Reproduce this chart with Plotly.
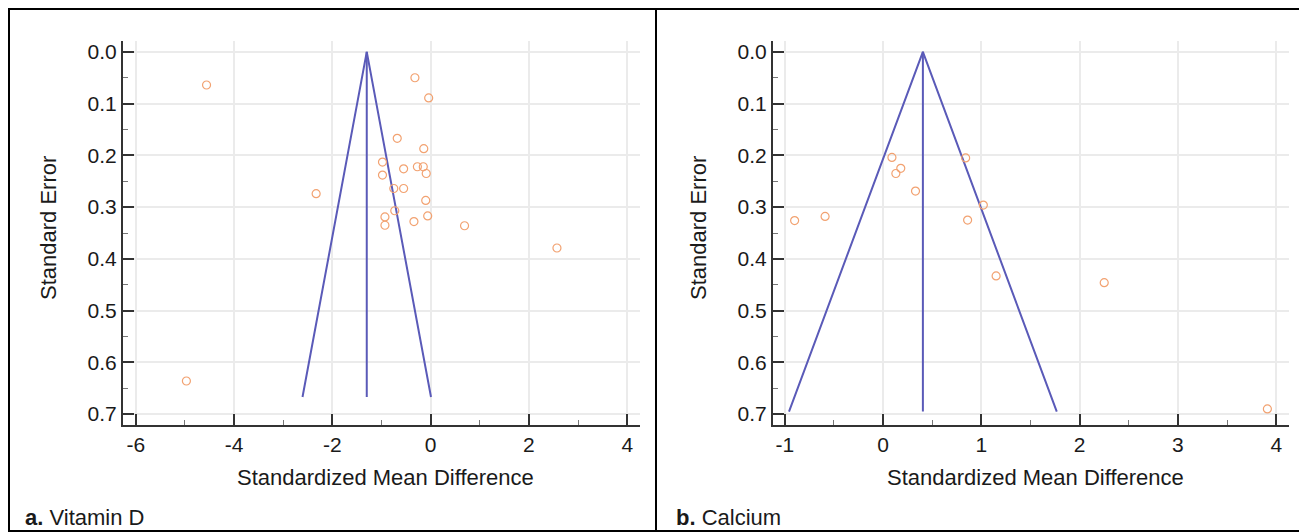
import plotly.graph_objects as go

# a. Vitamin D  (effect size, standard error)
vitd_smd = [-4.56, -0.32, -0.04, -0.68, -0.14, -0.98, -0.55, -0.27, -0.15, -0.09, -0.98,
            -0.75, -0.55, -2.33, -0.10, -0.73, -0.93, -0.93, -0.34, -0.06, 0.69, 2.57, -4.97]
vitd_se = [0.064, 0.050, 0.089, 0.167, 0.187, 0.213, 0.226, 0.222, 0.222, 0.235, 0.238,
           0.264, 0.264, 0.274, 0.287, 0.307, 0.319, 0.335, 0.328, 0.317, 0.336, 0.379, 0.636]
vitd_pooled = -1.30
vitd_se_max = 0.667

# b. Calcium
ca_smd = [-0.90, -0.59, 0.09, 0.13, 0.18, 0.33, 0.84, 1.02, 0.86, 1.15, 2.25, 3.91]
ca_se = [0.326, 0.318, 0.204, 0.235, 0.225, 0.269, 0.205, 0.296, 0.325, 0.433, 0.446, 0.690]
ca_pooled = 0.405
ca_se_max = 0.695

yticks = [0.0, 0.1, 0.2, 0.3, 0.4, 0.5, 0.6, 0.7]
xticks_a = [-6, -4, -2, 0, 2, 4]
xticks_b = [-1, 0, 1, 2, 3, 4]

# page body has an 8px margin, so the figure starts at (8, 8)
OX, OY = 8, 8
W, H = 1299, 524


def px(x):
    return (x - OX) / W


def py(y):
    return 1 - (y - OY) / H


line_col = "#5a5ab8"
pt_col = "#f2a271"
grid_col = "#ebebeb"
axis_col = "#333333"
font = "Arial, Liberation Sans, sans-serif"

fig = go.Figure()


def funnel(pooled, se_max, xa, ya):
    half = 1.96 * se_max
    fig.add_trace(go.Scatter(x=[pooled - half, pooled, pooled + half], y=[se_max, 0, se_max],
                             mode="lines", line=dict(color=line_col, width=2),
                             xaxis=xa, yaxis=ya, showlegend=False, hoverinfo="skip"))
    fig.add_trace(go.Scatter(x=[pooled, pooled], y=[0, se_max], mode="lines",
                             line=dict(color=line_col, width=2),
                             xaxis=xa, yaxis=ya, showlegend=False, hoverinfo="skip"))


def points(xs, ys, xa, ya):
    fig.add_trace(go.Scatter(x=xs, y=ys, mode="markers",
                             marker=dict(symbol="circle-open", size=8, color=pt_col,
                                         line=dict(width=1.2, color=pt_col)),
                             xaxis=xa, yaxis=ya, showlegend=False))


funnel(vitd_pooled, vitd_se_max, "x", "y")
points(vitd_smd, vitd_se, "x", "y")
funnel(ca_pooled, ca_se_max, "x2", "y2")
points(ca_smd, ca_se, "x2", "y2")


def xax(left, right, rng, ticks, minor_dt, anchor):
    return dict(domain=[px(left), px(right)], range=rng, anchor=anchor,
                tickvals=ticks, ticktext=[str(t) for t in ticks],
                showgrid=True, gridcolor=grid_col, gridwidth=1.5, zeroline=False,
                showline=True, linecolor=axis_col, linewidth=2,
                ticks="inside", ticklen=11, tickwidth=2, tickcolor=axis_col,
                minor=dict(dtick=minor_dt, ticks="inside", ticklen=5, tickwidth=1,
                           tickcolor="#777777", showgrid=False),
                tickfont=dict(family=font, size=21, color="#1a1a1a"))


def yax(anchor):
    return dict(domain=[py(425), py(41)], range=[0.721, -0.021], anchor=anchor,
                tickvals=yticks, ticktext=["%.1f" % t for t in yticks],
                showgrid=True, gridcolor=grid_col, gridwidth=1.5, zeroline=False,
                showline=True, linecolor=axis_col, linewidth=2,
                ticks="inside", ticklen=11, tickwidth=2, tickcolor=axis_col,
                minor=dict(dtick=0.05, tick0=0, ticks="inside", ticklen=5, tickwidth=1,
                           tickcolor="#777777", showgrid=False),
                tickfont=dict(family=font, size=21, color="#1a1a1a"))


fig.update_layout(
    width=W, height=H, margin=dict(l=0, r=0, t=0, b=0),
    paper_bgcolor="white", plot_bgcolor="white",
    xaxis=xax(123, 640, [-6.26, 4.26], xticks_a, 1, "y"),
    yaxis=yax("x"),
    xaxis2=xax(773, 1289, [-1.12, 4.13], xticks_b, 0.5, "y2"),
    yaxis2=yax("x2"),
)

txt = dict(family=font, size=22, color="#1a1a1a")
annos = [
    dict(x=49, y=228, text="Standard Error", textangle=-90),
    dict(x=699, y=228, text="Standard Error", textangle=-90),
    dict(x=385, y=477, text="Standardized Mean Difference"),
    dict(x=1035, y=477, text="Standardized Mean Difference"),
    dict(x=23, y=517, text="<b>a.</b> Vitamin D", xanchor="left"),
    dict(x=674, y=517, text="<b>b.</b> Calcium", xanchor="left"),
]
for a in annos:
    fig.add_annotation(xref="paper", yref="paper", showarrow=False, font=txt,
                       xanchor=a.get("xanchor", "center"), yanchor="middle",
                       x=px(a["x"]), y=py(a["y"]), text=a["text"], textangle=a.get("textangle", 0))

# panel frames
frame = dict(type="rect", xref="paper", yref="paper", line=dict(color="black", width=2))
fig.add_shape(**frame, x0=px(9), x1=px(656), y0=py(531), y1=py(9))
fig.add_shape(**frame, x0=px(656), x1=px(1303), y0=py(531), y1=py(9))

fig.write_html("out.html")
